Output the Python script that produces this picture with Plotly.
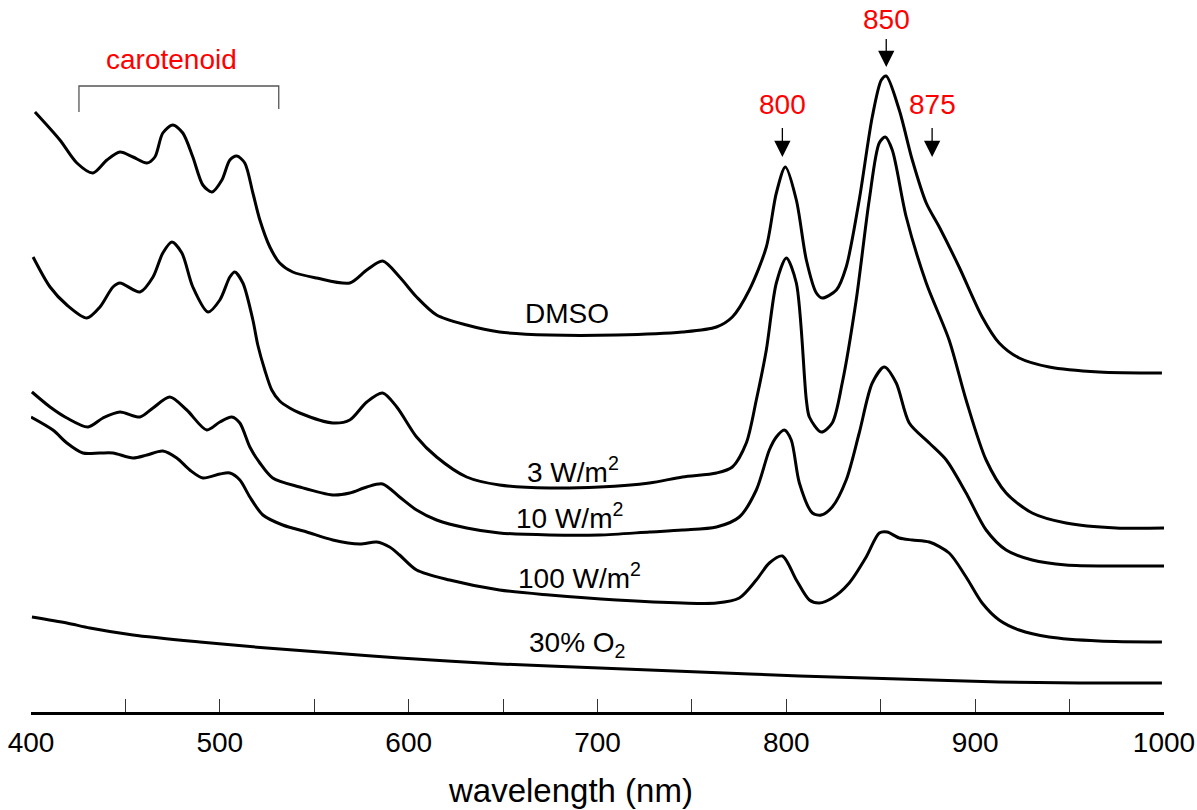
import plotly.graph_objects as go

# ---- data (wavelength nm, absorbance a.u., curves offset) ----
dmso_x = [402.1, 415.3, 424.3, 432.8, 440.2, 447.1, 454.0, 461.4, 465.6, 469.8, 475.1, 480.4, 485.7, 491.0, 495.8,
          501.1, 505.3, 509.0, 513.2, 517.5, 521.2, 526.5, 531.7, 538.6, 551.3, 568.8, 577.8, 586.2, 595.2, 604.2,
          614.8, 630.7, 648.1, 674.6, 710.1, 745.0, 763.0, 771.4, 780.4, 789.4, 794.7, 799.5, 805.3, 810.6, 815.9,
          819.0, 826.5, 831.7, 838.6, 845.5, 850.3, 852.9, 859.8, 866.7, 874.1, 881.0, 891.5, 903.7, 912.7, 923.3,
          939.2, 965.6, 998.9]
dmso_y = [6.00, 5.72, 5.49, 5.39, 5.52, 5.60, 5.55, 5.49, 5.55, 5.79, 5.87, 5.79, 5.55, 5.27, 5.20,
          5.32, 5.52, 5.56, 5.49, 5.19, 4.92, 4.65, 4.49, 4.40, 4.34, 4.29, 4.42, 4.51, 4.35, 4.15,
          3.97, 3.87, 3.80, 3.77, 3.77, 3.80, 3.85, 3.95, 4.22, 4.65, 5.19, 5.45, 5.12, 4.52, 4.19,
          4.14, 4.22, 4.45, 5.12, 5.95, 6.32, 6.36, 6.02, 5.52, 5.09, 4.85, 4.45, 3.95, 3.69, 3.54,
          3.45, 3.40, 3.39]

w3_x = [401.1, 410.1, 419.0, 429.6, 436.5, 443.4, 447.1, 457.7, 464.6, 469.8, 474.6, 479.9, 485.7, 493.7, 500.0,
        505.3, 507.9, 512.2, 517.5, 520.1, 523.8, 527.5, 531.7, 537.0, 542.3, 559.8, 568.8, 577.8, 586.2, 593.7,
        604.2, 614.8, 630.7, 648.1, 674.6, 701.1, 727.5, 745.0, 763.0, 771.4, 778.8, 784.1, 789.4, 794.7, 800.0,
        805.3, 810.6, 812.2, 818.5, 824.3, 829.6, 837.0, 843.9, 849.2, 852.4, 856.1, 863.5, 874.1, 886.2, 895.2,
        905.8, 916.4, 930.2, 948.1, 974.6, 1002.0]
w3_y = [4.55, 4.25, 4.07, 3.94, 4.05, 4.25, 4.29, 4.20, 4.35, 4.59, 4.70, 4.59, 4.25, 4.00, 4.12,
        4.35, 4.40, 4.29, 3.92, 3.67, 3.42, 3.22, 3.11, 3.04, 2.99, 2.89, 2.92, 3.10, 3.19, 3.05,
        2.75, 2.55, 2.35, 2.27, 2.24, 2.25, 2.29, 2.35, 2.39, 2.45, 2.69, 3.12, 3.62, 4.29, 4.54,
        4.29, 3.12, 2.95, 2.80, 2.89, 3.29, 4.12, 5.12, 5.69, 5.75, 5.62, 4.95, 4.29, 3.72, 3.12,
        2.52, 2.19, 1.99, 1.89, 1.84, 1.84]

w10_x = [400.5, 410.1, 419.0, 430.2, 438.1, 447.1, 457.7, 464.6, 473.5, 482.5, 493.1, 500.0, 506.3, 510.6, 515.9,
         521.2, 528.0, 542.3, 559.8, 568.8, 577.8, 586.2, 595.2, 604.2, 614.8, 630.7, 648.1, 674.6, 701.1, 727.5,
         745.0, 763.0, 775.1, 784.1, 791.0, 794.7, 798.9, 802.6, 806.9, 813.8, 818.5, 824.3, 831.7, 838.6, 845.5,
         851.9, 858.2, 865.1, 875.7, 884.7, 895.2, 905.8, 916.4, 930.2, 948.1, 974.6, 1001.1]
w10_y = [3.20, 3.05, 2.94, 2.85, 2.94, 3.00, 2.95, 3.04, 3.15, 3.02, 2.82, 2.90, 2.95, 2.89, 2.65,
         2.49, 2.34, 2.25, 2.17, 2.19, 2.25, 2.28, 2.15, 2.02, 1.92, 1.84, 1.79, 1.77, 1.77, 1.80,
         1.82, 1.85, 1.95, 2.22, 2.62, 2.75, 2.82, 2.72, 2.29, 1.99, 1.97, 2.05, 2.32, 2.79, 3.29,
         3.45, 3.29, 2.89, 2.69, 2.52, 2.19, 1.82, 1.62, 1.52, 1.47, 1.46, 1.46]

w100_x = [400.0, 411.6, 419.0, 427.5, 436.5, 443.4, 454.0, 461.4, 469.8, 477.2, 484.1, 491.0, 500.0, 505.3, 510.6,
          515.9, 522.8, 533.3, 546.0, 559.8, 574.1, 583.1, 589.9, 595.2, 604.2, 621.7, 648.1, 674.6, 710.1, 745.0,
          763.0, 775.1, 784.1, 791.0, 797.9, 805.3, 812.2, 817.5, 824.3, 833.3, 842.3, 849.2, 853.4, 859.8, 866.7,
          875.7, 886.2, 895.2, 903.7, 912.7, 923.3, 939.2, 965.6, 998.9]
w100_y = [2.95, 2.82, 2.69, 2.59, 2.59, 2.59, 2.54, 2.57, 2.61, 2.54, 2.42, 2.34, 2.38, 2.39, 2.32,
          2.15, 1.97, 1.87, 1.80, 1.72, 1.68, 1.70, 1.65, 1.57, 1.42, 1.32, 1.22, 1.17, 1.12, 1.09,
          1.09, 1.14, 1.32, 1.49, 1.56, 1.32, 1.12, 1.09, 1.14, 1.29, 1.55, 1.79, 1.80, 1.74, 1.72,
          1.70, 1.59, 1.35, 1.09, 0.92, 0.82, 0.75, 0.71, 0.70]

o2_x = [400.5, 419.0, 431.2, 454.0, 489.4, 524.9, 559.8, 595.2, 648.1, 701.1, 754.0, 806.9, 859.8, 912.7, 955.0, 998.9]
o2_y = [0.95, 0.89, 0.84, 0.77, 0.70, 0.64, 0.59, 0.54, 0.48, 0.44, 0.40, 0.36, 0.33, 0.30, 0.29, 0.29]

curve_labels = ["DMSO", "3 W/m<sup>2</sup>", "10 W/m<sup>2</sup>", "100 W/m<sup>2</sup>", "30% O<sub>2</sub>"]
label_x = [684.1, 686.8, 685.2, 690.5, 689.4]
label_y = [3.99, 2.42, 1.96, 1.36, 0.68]

peak_labels = ["800", "850", "875"]
peak_x = [797.9, 852.9, 877.2]
peak_tip_y = [5.55, 6.45, 5.55]
peak_text_offset = [-53, -48, -53]   # pixels from arrow tip to label centre
peak_standoff = [7, 3, 7]

FONT = "Arial, Liberation Sans, sans-serif"

fig = go.Figure()
for xs, ys in [(dmso_x, dmso_y), (w3_x, w3_y), (w10_x, w10_y), (w100_x, w100_y), (o2_x, o2_y)]:
    fig.add_trace(go.Scatter(x=xs, y=ys, mode="lines",
                             line=dict(color="black", width=3, shape="spline", smoothing=0.8),
                             showlegend=False, hoverinfo="skip"))

annotations = []
for t, x, y in zip(curve_labels, label_x, label_y):
    annotations.append(dict(x=x, y=y, xref="x", yref="y", text=t, showarrow=False,
                            font=dict(family=FONT, size=28, color="black")))

# peak markers (red text with arrow)
for t, x, y, ay, so in zip(peak_labels, peak_x, peak_tip_y, peak_text_offset, peak_standoff):
    annotations.append(dict(x=x, y=y, xref="x", yref="y", text=t, showarrow=True,
                            ax=0, ay=ay, arrowhead=2, arrowsize=2.5, arrowwidth=1.3,
                            arrowcolor="black", startstandoff=so,
                            font=dict(family=FONT, size=28, color="red")))

annotations.append(dict(x=474.6, y=6.53, xref="x", yref="y", text="carotenoid", showarrow=False,
                        font=dict(family=FONT, size=28, color="red")))
annotations.append(dict(x=0.4766, y=-0.1096, xref="paper", yref="paper", text="wavelength (nm)",
                        showarrow=False, xanchor="center", yanchor="middle",
                        font=dict(family=FONT, size=33, color="black")))

shapes = [dict(type="path", xref="x", yref="y",
               path="M 425.4 6.00 L 425.4 6.26 L 531.2 6.26 L 531.2 6.03",
               line=dict(color="#555555", width=1.3))]

fig.update_layout(
    width=1197, height=810,
    margin=dict(l=31, r=33, t=0, b=98),
    paper_bgcolor="white", plot_bgcolor="white",
    annotations=annotations, shapes=shapes,
    xaxis=dict(range=[400, 1000], tickmode="linear", tick0=400, dtick=100,
               ticks="inside", ticklen=13, tickwidth=1, tickcolor="#333333",
               minor=dict(dtick=50, ticks="inside", ticklen=13, tickwidth=1, tickcolor="#333333",
                          showgrid=False),
               showline=True, linecolor="black", linewidth=3, showgrid=False, zeroline=False,
               tickfont=dict(family=FONT, size=28, color="black"), ticklabelstandoff=3),
    yaxis=dict(range=[0, 7.12], visible=False, showgrid=False, zeroline=False),
)

fig.write_html("out.html", config={"displayModeBar": False},
               post_script="document.body.style.margin='0';document.body.style.overflow='hidden';")
